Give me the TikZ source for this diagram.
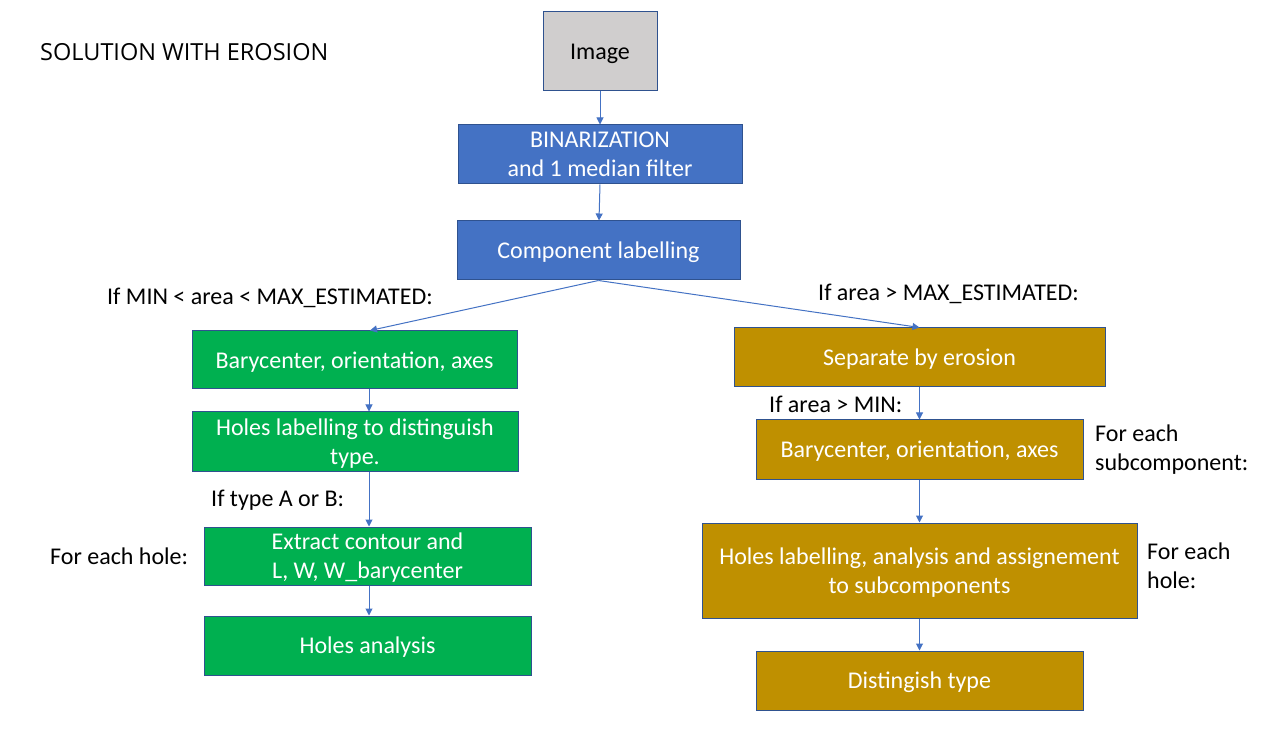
\documentclass[tikz,border=0pt]{standalone}
\usepackage{fontspec}
\setmainfont{Carlito}
\newfontfamily\titlefont{Open Sans}
\usetikzlibrary{arrows.meta}
\definecolor{bfill}{HTML}{4472C4}
\definecolor{bdraw}{HTML}{2F528F}
\definecolor{gfill}{HTML}{00B050}
\definecolor{afill}{HTML}{BF9000}
\definecolor{ifill}{HTML}{D0CECE}
\definecolor{arrc}{HTML}{4472C4}
\tikzset{
  box/.style={draw=bdraw, line width=1pt, inner sep=0pt, align=center, text=white, text depth=0pt},
  bluebox/.style={box, fill=bfill},
  greenbox/.style={box, fill=gfill},
  goldbox/.style={box, fill=afill},
  imgbox/.style={box, fill=ifill, text=black},
  arr/.style={draw=arrc, line width=1pt, -{Triangle[length=7pt,width=7pt]}},
  lbl/.style={anchor=west, inner sep=0pt, align=left, text=black}
}
\begin{document}
\begin{tikzpicture}[x=1pt,y=-1pt,font=\fontsize{24}{29}\selectfont]
\useasboundingbox (0,0) rectangle (1286,735);
\fill[white] (0,0) rectangle (1286,735);

\node[lbl, font=\titlefont\fontsize{23.5}{28}\selectfont] (title) at (40,52) {SOLUTION WITH EROSION};

\node[imgbox, minimum width=114pt, minimum height=79pt] (img) at (600,51.5) {Image};
\node[bluebox, minimum width=284pt, minimum height=59pt] (bin) at (600,154.5) {BINARIZATION\\and 1 median filter};
\node[bluebox, minimum width=283pt, minimum height=59pt] (cl) at (598.5,250.5) {Component labelling};

\node[greenbox, minimum width=325pt, minimum height=58pt] (g1) at (354.5,360) {Barycenter, orientation, axes};
\node[greenbox, minimum width=326pt, minimum height=59pt] (g2) at (355,441.5) {Holes labelling to distinguish\\type.};
\node[greenbox, minimum width=327pt, minimum height=58pt] (g3) at (367.5,556) {Extract contour and\\L, W, W\_barycenter};
\node[greenbox, minimum width=327pt, minimum height=59pt] (g4) at (367.5,645.5) {Holes analysis};

\node[goldbox, minimum width=371pt, minimum height=59pt] (a1) at (919.5,357.5) {Separate by erosion};
\node[goldbox, minimum width=327pt, minimum height=59pt] (a2) at (919.5,449.5) {Barycenter, orientation, axes};
\node[goldbox, minimum width=435pt, minimum height=95pt] (a3) at (919.5,570.5) {Holes labelling, analysis and assignement\\to subcomponents};
\node[goldbox, minimum width=327pt, minimum height=59pt] (a4) at (919.5,680.5) {Distingish type};

\node[lbl] (l1) at (107,298) {If MIN < area < MAX\_ESTIMATED:};
\node[lbl] (l2) at (818,294) {If area > MAX\_ESTIMATED:};
\node[lbl] (l3) at (211,500) {If type A or B:};
\node[lbl] (l4) at (50,556) {For each hole:};
\node[lbl] (l5) at (769,404) {If area > MIN:};
\node[lbl] (l6) at (1095,450) {For each\\subcomponent:};
\node[lbl] (l7) at (1147,566) {For each\\hole:};

\draw[arr] (img.south) -- (bin.north);
\draw[arr] (bin.south) -- ([xshift=-1pt]bin.south |- cl.north);
\draw[arr] (cl.south) -- ([xshift=15.5pt]g1.north);
\draw[arr] (cl.south) -- (a1.north);
\draw[arr] ([xshift=1.5pt]g3.north |- g1.south) -- ([xshift=1.5pt]g3.north |- g2.north);
\draw[arr] ([xshift=1.5pt]g3.north |- g2.south) -- ([xshift=1.5pt]g3.north);
\draw[arr] ([xshift=1.5pt]g3.south) -- ([xshift=1.5pt]g4.north);
\draw[arr] (a1.south) -- (a2.north);
\draw[arr] (a2.south) -- (a3.north);
\draw[arr] (a3.south) -- (a4.north);
\end{tikzpicture}
\end{document}
